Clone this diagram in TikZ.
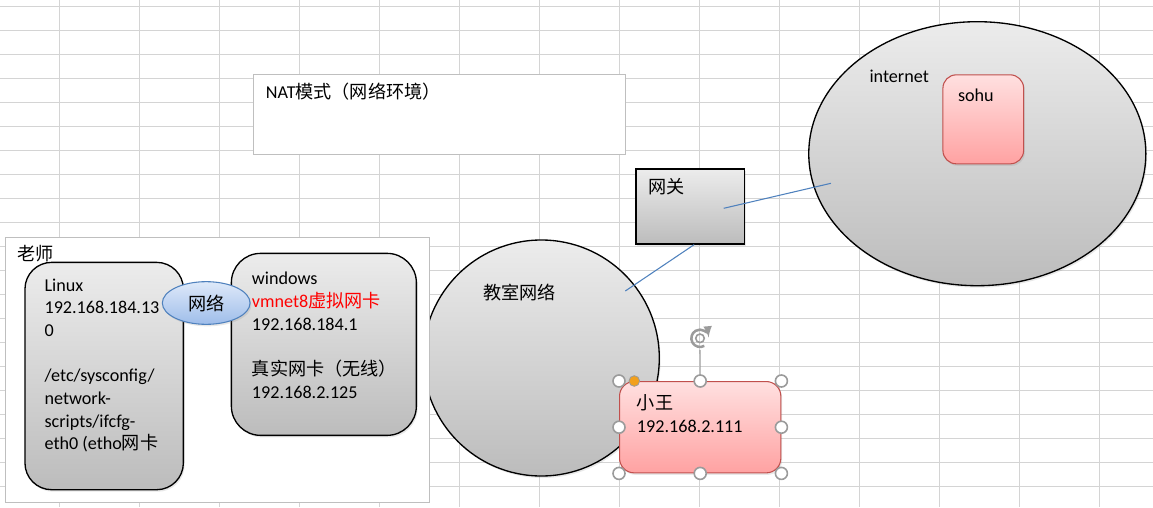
\documentclass[tikz,border=0pt]{standalone}
\usepackage{fontspec}
\setmainfont{Carlito}
\newfontfamily\cjk{Noto Sans CJK SC}
\usetikzlibrary{shapes.geometric,arrows,shadows}

\definecolor{gridgray}{RGB}{212,212,212}
\definecolor{framegray}{RGB}{191,191,191}
\definecolor{shadetop}{RGB}{236,236,236}
\definecolor{shadebot}{RGB}{188,188,188}
\definecolor{pinktop}{RGB}{255,224,224}
\definecolor{pinkbot}{RGB}{255,162,162}
\definecolor{pinkline}{RGB}{192,80,77}
\definecolor{bluetop}{RGB}{222,233,249}
\definecolor{bluebot}{RGB}{158,189,234}
\definecolor{blueline}{RGB}{79,129,189}
\definecolor{handlegray}{RGB}{155,155,155}
\definecolor{handleorange}{RGB}{242,160,28}

\newcommand{\zh}[1]{{\cjk #1}}

\begin{document}
\begin{tikzpicture}[x=0.75pt, y=-0.75pt,
    every node/.style={font=\fontsize{13.6}{17}\selectfont, inner sep=0pt},
    frame/.style={rectangle, draw=framegray, fill=white, line width=0.8pt, anchor=north west},
    shade/.style={draw=black, line width=1pt, top color=shadetop, bottom color=shadebot,
        drop shadow={opacity=0.18, shadow xshift=1pt, shadow yshift=-1.5pt}},
    host/.style={shade, rectangle, rounded corners=#1, anchor=north west},
    pinkbox/.style={rectangle, rounded corners=#1, anchor=north west, draw=pinkline, line width=0.8pt,
        top color=pinktop, bottom color=pinkbot,
        drop shadow={opacity=0.18, shadow xshift=1pt, shadow yshift=-1.5pt}},
    txt/.style={anchor=base west, align=left},
    link/.style={draw=blueline, line width=0.8pt},
    handle/.style={circle, draw=handlegray, fill=white, line width=1.2pt, minimum size=9pt}
]
    \useasboundingbox (0,0) rectangle (1153,507);

    % sheet grid
    \foreach \i in {0,...,13}
        \draw[gridgray, line width=0.75pt] (59.5+80*\i,0) -- (59.5+80*\i,507);
    \foreach \j in {0,...,20}
        \draw[gridgray, line width=0.75pt] (0,6.3+24*\j) -- (1153,6.3+24*\j);

    % title
    \node[frame, minimum width=278.8pt, minimum height=60.2pt] (title) at (253.3,73.7) {};
    \node[txt] (titletxt) at (265.7,98.5) {NAT\zh{模式（网络环境）}};

    % classroom network
    \node[shade, circle, minimum size=177pt] (room) at (541.3,358) {};
    \node[txt] (roomtxt) at (483.3,299) {\zh{教室网络}};

    % teacher machine (multi-line texts sit on their last baseline)
    \node[frame, minimum width=318pt, minimum height=198.8pt] (teacher) at (5.3,237.3) {};
    \node[txt] (teachertxt) at (17.3,260) {\zh{老师}};

    \node[host=20pt, minimum width=118.8pt, minimum height=170.5pt] (linux) at (24.3,261.7) {};
    \node[txt] (linuxtxt) at (44.3,449.8)
        {Linux\\192.168.184.13\\0\\[17pt]/etc/sysconfig/\\network-\\scripts/ifcfg-\\eth0 (etho\zh{网卡}};

    \node[host=22pt, minimum width=138.75pt, minimum height=136.5pt] (windows) at (230.7,252.7) {};
    \node[txt] (windowstxt) at (251.7,398.3)
        {windows\\\textcolor{red}{vmnet8\zh{虚拟网卡}}\\192.168.184.1\\[17pt]\zh{真实网卡（无线）}\\192.168.2.125};

    \node[ellipse, draw=blueline, line width=0.8pt, top color=bluetop, bottom color=bluebot,
        minimum width=65.8pt, minimum height=32pt,
        drop shadow={opacity=0.18, shadow xshift=1pt, shadow yshift=-1.5pt}] (vnet) at (206.2,303) {\zh{网络}};

    % gateway
    \node[shade, rectangle, anchor=north west, minimum width=81.3pt, minimum height=56.25pt] (gw) at (635.3,168.3) {};
    \node[txt] (gwtxt) at (648,193) {\zh{网关}};

    % internet
    \node[shade, ellipse, minimum width=252.8pt, minimum height=198pt] (net) at (977.3,153.7) {};
    \node[txt] (nettxt) at (869.3,82.5) {internet};
    \node[pinkbox=10pt, minimum width=60.5pt, minimum height=66.75pt] (sohu) at (942.4,74.3) {};
    \node[txt] (sohutxt) at (957.8,101) {sohu};

    % student machine
    \node[pinkbox=11pt, minimum width=121pt, minimum height=68.5pt] (xw) at (619,381) {};
    \node[txt] (xwtxt) at (636.7,432.3) {\zh{小王}\\192.168.2.111};

    % links
    \coordinate (gw-out) at (723.7,208.3);
    \coordinate (net-in) at (830.9,183.3);
    \coordinate (room-in) at (625.3,291);
    \draw[link] (gw-out) -- (net-in);
    \draw[link] ([xshift=3pt]gw.south) -- (room-in);

    % selection handles
    \node[circle, minimum size=17pt] (rot) at (700,338.3) {};
    \draw[handlegray, line width=0.8pt] (xw.north) -- (rot.south);
    \begin{scope}[shift={(rot.center)}, x=1pt, y=1pt]
        \draw[handlegray, line width=1.9pt, -latex] (-60:6.5) arc[start angle=-60, end angle=-355, radius=6.5];
        \draw[handlegray, line width=1.2pt] (0,0) circle[radius=3.2];
    \end{scope}
    \foreach \a [count=\i] in {north west, north, north east, west, east, south west, south, south east}
        \node[handle] (hd\i) at (xw.\a) {};
    \node[circle, fill=handleorange, draw=handlegray, line width=0.6pt, minimum size=8pt] (adj) at (634.3,381) {};
\end{tikzpicture}
\end{document}
